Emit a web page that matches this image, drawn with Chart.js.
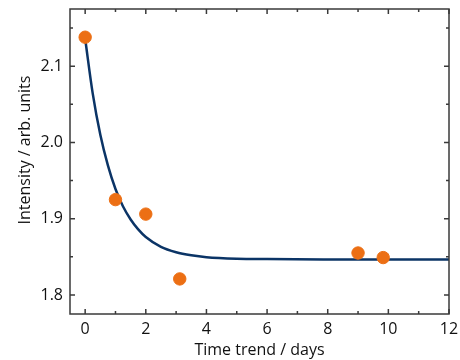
<!DOCTYPE html>
<html>
<head>
<meta charset="utf-8">
<script src="https://cdn.jsdelivr.net/npm/chart.js@4/dist/chart.umd.min.js"></script>
<style>
    html, body { margin: 0; padding: 0; background: #fff; }
    #wrap { width: 460px; height: 360px; }
</style>
</head>
<body>
<div id="wrap"><canvas id="chart"></canvas></div>
<script>
// измеренные точки (дни, интенсивность)
const measDays = [0, 1, 2, 3.12, 9, 9.83];
const measIntensity = [2.138, 1.925, 1.906, 1.821, 1.855, 1.849];

// кривая аппроксимации
const fitDays = [0, 0.25, 0.5, 0.75, 1, 1.25, 1.5, 1.75, 2, 2.5, 3, 3.5, 4, 5, 6, 8, 10, 12];
const fitIntensity = [2.136, 2.064, 2.010, 1.970, 1.939, 1.916, 1.899, 1.886, 1.876, 1.863, 1.856, 1.852, 1.8495, 1.8475, 1.847, 1.8466, 1.8465, 1.8465];

// подписи осей
const xTicks = [0, 2, 4, 6, 8, 10, 12];
const xMinor = [1, 3, 5, 7, 9, 11];
const yTicks = [1.8, 1.9, 2.0, 2.1];
const yMinor = [1.85, 1.95, 2.05, 2.15];
const yTitle = 'Intensity / arb. units';

const FONT = "'Open Sans', 'Noto Sans', sans-serif";

// рамка, засечки внутрь и подпись оси Y
const frameTicks = {
    id: 'frameTicks',
    afterDraw(chart) {
        const {ctx, chartArea: a, scales: {x, y}} = chart;
        ctx.save();
        ctx.strokeStyle = '#3a3a3a';
        ctx.lineWidth = 1.5;
        ctx.strokeRect(a.left, a.top, a.right - a.left, a.bottom - a.top);
        ctx.beginPath();
        const tick = (vals, len) => {
            vals.forEach(v => {
                const px = x.getPixelForValue(v);
                ctx.moveTo(px, a.bottom); ctx.lineTo(px, a.bottom - len);
                ctx.moveTo(px, a.top); ctx.lineTo(px, a.top + len);
            });
        };
        const tickY = (vals, len) => {
            vals.forEach(v => {
                const py = y.getPixelForValue(v);
                ctx.moveTo(a.left, py); ctx.lineTo(a.left + len, py);
                ctx.moveTo(a.right, py); ctx.lineTo(a.right - len, py);
            });
        };
        tick(xTicks, 5);
        tick(xMinor, 3);
        tickY(yTicks, 5);
        tickY(yMinor, 3);
        ctx.stroke();

        // подпись оси Y чуть выше центра, как в оригинале
        ctx.translate(25, y.getPixelForValue(1.99));
        ctx.rotate(-Math.PI / 2);
        ctx.fillStyle = '#111';
        ctx.font = `16px ${FONT}`;
        ctx.textAlign = 'center';
        ctx.textBaseline = 'middle';
        ctx.fillText(yTitle, 0, 0);
        ctx.restore();
    }
};

new Chart(document.getElementById('chart'), {
    type: 'scatter',
    data: {
        datasets: [
            {
                label: 'fit',
                type: 'line',
                data: fitDays.map((d, i) => ({x: d, y: fitIntensity[i]})),
                borderColor: '#0b3466',
                borderWidth: 2.5,
                pointRadius: 0,
                cubicInterpolationMode: 'monotone',
                fill: false,
                order: 2
            },
            {
                label: 'data',
                data: measDays.map((d, i) => ({x: d, y: measIntensity[i]})),
                backgroundColor: '#ec6f14',
                borderColor: '#ec6f14',
                pointRadius: 6.2,
                order: 1
            }
        ]
    },
    options: {
        responsive: true,
        maintainAspectRatio: false,
        animation: false,
        layout: {padding: {top: 9, right: 11, left: 0, bottom: 0}},
        plugins: {legend: {display: false}, tooltip: {enabled: false}},
        scales: {
            x: {
                type: 'linear',
                min: -0.5,
                max: 12,
                afterBuildTicks: (s) => { s.ticks = xTicks.map(v => ({value: v})); },
                afterFit: (s) => {
                    s.height = 46;
                    s.paddingLeft = 0;
                    s.paddingRight = 0;
                },
                grid: {display: false, drawTicks: false},
                border: {display: false},
                ticks: {
                    color: '#111',
                    font: {family: FONT, size: 16},
                    padding: 6,
                    maxRotation: 0,
                    callback: (v) => String(v)
                },
                title: {
                    display: true,
                    text: 'Time trend / days',
                    color: '#111',
                    font: {family: FONT, size: 16},
                    padding: {top: 0, bottom: 0}
                }
            },
            y: {
                type: 'linear',
                min: 1.775,
                max: 2.175,
                afterBuildTicks: (s) => { s.ticks = yTicks.map(v => ({value: v})); },
                afterFit: (s) => {
                    s.width = 70;
                    s.paddingTop = 0;
                    s.paddingBottom = 0;
                },
                grid: {display: false, drawTicks: false},
                border: {display: false},
                ticks: {
                    color: '#111',
                    font: {family: FONT, size: 16},
                    padding: 7,
                    callback: (v) => v.toFixed(1)
                }
            }
        }
    },
    plugins: [frameTicks]
});
</script>
</body>
</html>
